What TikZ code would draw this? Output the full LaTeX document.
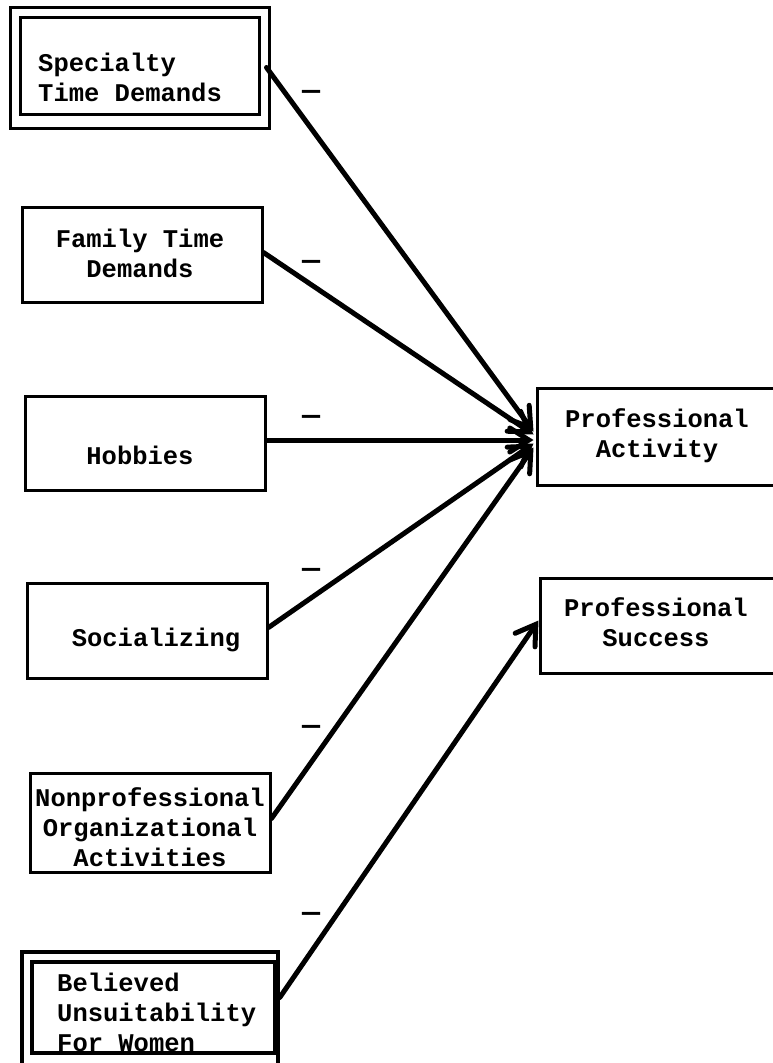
\documentclass[tikz,border=0pt]{standalone}
\usepackage{fontspec}
\setmonofont{Liberation Mono}
\usetikzlibrary{arrows.meta,calc}
\newcommand{\lblfont}{\ttfamily\bfseries\fontsize{25.5}{30}\selectfont}
\newcommand{\signfont}{\ttfamily\bfseries\fontsize{30}{30}\selectfont}
\begin{document}
\begin{tikzpicture}[x=1pt,y=-1pt,
  box/.style={draw, line width=3pt, rectangle, inner sep=0pt},
  lbl/.style={inner sep=0pt, font=\lblfont},
  sign/.style={inner sep=0pt, font=\signfont},
  link/.style={line width=5pt, line cap=round,
    -{Straight Barb[length=19pt,width=24pt,line cap=round]}}]
\useasboundingbox (0,0) rectangle (773,1063);
\clip (0,0) rectangle (773,1063);

% predictor boxes
\node[box, minimum width=259pt, minimum height=121pt] (specframe) at (139.5,67.5) {};
\node[box, minimum width=239pt, minimum height=97pt] (spec) at (139.5,65.5) {};
\node[box, minimum width=240pt, minimum height=95pt] (fam) at (142,254.5) {};
\node[box, minimum width=240pt, minimum height=94pt] (hob) at (145,443) {};
\node[box, minimum width=240pt, minimum height=95pt] (soc) at (147,630.5) {};
\node[box, minimum width=240pt, minimum height=99pt] (np) at (150,822.5) {};
\node[box, line width=3.5pt, minimum width=256pt, minimum height=138pt] (belframe) at (150,1021) {};
\node[box, line width=3.5pt, minimum width=243pt, minimum height=91pt] (bel) at (153.5,1007.5) {};

% outcome boxes
\node[box, minimum width=240pt, minimum height=97pt] (PA) at (657,436.5) {};
\node[box, minimum width=236pt, minimum height=95pt] (PS) at (658,625.5) {};

% box labels
\node[lbl, anchor=west, align=left] (spec-t) at (38,77) {Specialty\\Time Demands};
\node[lbl, align=center] (fam-t) at (140,253) {Family Time\\Demands};
\node[lbl] (hob-t) at (140,455) {Hobbies};
\node[lbl] (soc-t) at (156,640) {Socializing};
\node[lbl, align=center] (np-t) at (150,827) {Nonprofessional\\Organizational\\Activities};
\node[lbl, anchor=west, align=left] (bel-t) at (57,1012) {Believed\\Unsuitability\\For Women};
\node[lbl, align=center] (PA-t) at (657,436) {Professional\\Activity};
\node[lbl, align=center] (PS-t) at (656,622) {Professional\\Success};

% signs of the paths
\node[sign] (d1) at (311,95) {—};
\node[sign] (d2) at (311,265) {—};
\node[sign] (d3) at (311,420) {—};
\node[sign] (d4) at (311,573) {—};
\node[sign] (d5) at (311,730) {—};
\node[sign] (d6) at (311,917) {—};

% paths
\draw[link] ($(specframe.east)+(-4,0)$) -- ($(PA.west)+(-2,-5)$);
\draw[link] ($(fam.east)+(0,-2)$) -- ($(PA.west)+(-2,-2)$);
\draw[link] ($(hob.east)+(0,-3)$) -- ($(PA.west)+(-2,3.5)$);
\draw[link] ($(soc.east)+(0,-3)$) -- ($(PA.west)+(-2,7)$);
\draw[link] ($(np.east)+(0,-4)$) -- ($(PA.west)+(-2,11)$);
\draw[link] ($(bel.east)+(3,-10)$) -- ($(PS.west)+(0,-5)$);
\end{tikzpicture}
\end{document}
